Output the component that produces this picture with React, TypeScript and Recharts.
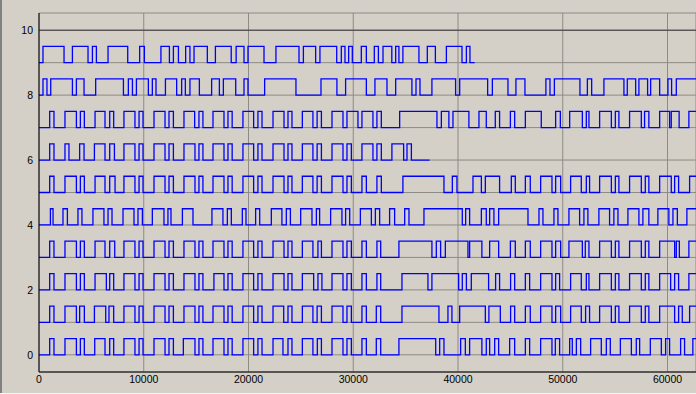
import React from 'react';
import { LineChart, Line, XAxis, YAxis, CartesianGrid, ReferenceLine } from 'recharts';

// Transition times (signal toggles low->high->low ...) for each digital channel
const ch0 = [1020,1430, 2480,3570, 3950,4330, 5320,6300, 6750,7130, 8110,9160, 9550,9930, 10980,12030, 12410,12830, 13780,14890, 15270,15650, 16610,17660, 18040,18440, 19470,20490, 20900,21290, 22340,23290, 23770,24150, 25140,26150, 26570,26960, 27970,29020, 29400,29820, 30830,31250, 32200,32620, 34360,37870, 38250,38660, 40250,40700, 41110,42280, 42700,43020, 43500,43880, 44930,45410, 46430,46840, 47890,48970, 49290,49700, 50660,50910, 51300,51710, 52660,53680, 54160,54540, 55500,56550, 57020,57340, 58360,59410, 59820,60200, 61250,61630, 62420];
const ch1 = [1020,1430, 2480,3570, 3880,4330, 5290,6370, 6680,7130, 8110,9160, 9550,9930, 10980,12030, 12410,12830, 13840,14890, 15270,15650, 16610,17660, 18040,18440, 19470,20490, 20900,21290, 22340,23360, 23770,24150, 25140,26150, 26550,26960, 27970,29020, 29400,29820, 30830,31250, 32200,32620, 34650,38180, 39040,39420, 40160,42610, 42950,44040, 45020,45410, 46430,46900, 47890,48970, 49320,49800, 50750,51770, 52180,52560, 53520,54640, 55020,55360, 56380,57500, 57880,58220, 59250,60680, 61060,61410, 62110];
const ch2 = [1020,1430, 2480,3570, 3950,4330, 5350,6430, 6750,7130, 8110,9160, 9550,9930, 10980,12030, 12410,12830, 13840,14890, 15270,15650, 16700,17660, 18040,18440, 19470,20490, 20900,21290, 22340,23390, 23770,24150, 25140,26220, 26630,27010, 27970,29020, 29400,29820, 30830,31250, 32260,32620, 34650,37130, 37510,40060, 40410,40800, 41270,42920, 43590,43970, 45020,45410, 46430,46840, 47890,48970, 49320,49700, 50750,51770, 52250,52500, 53520,54640, 55020,55360, 56380,57500, 57880,58220, 59250,60300, 60680,61060, 62040];
const ch3 = [1020,1430, 2480,3570, 3950,4330, 5350,6300, 6750,7230, 8110,9160, 9550,9930, 10980,12030, 12410,12830, 13840,14890, 15270,15650, 16610,17660, 18040,18440, 19470,20490, 20900,21290, 22340,23390, 23770,24150, 25140,26150, 26630,26960, 27970,29020, 29400,29820, 30830,31250, 32260,32620, 34360,37510, 37930,38340, 38790,40950, 41110,42280, 43020,43880, 45000,45470, 46430,46900, 47890,48970, 49320,49800, 50590,51870, 52150,52500, 53520,54640, 55020,55360, 56380,57500, 57880,58220, 59250,60680, 60840,61130, 62040];
const ch4 = [1090,1340, 2290,2710, 3720,4100, 5150,6200, 6590,6970, 8020,9070, 9450,9870, 10820,11930, 12310,12600, 13690,14700, 16510,17560, 17980,18360, 19410,19760, 20680,21070, 22180,23190, 23610,24000, 24980,26060, 26480,26790, 27840,28920, 29270,29660, 30680,31730, 32110,32520, 33470,33950, 34910,35320, 36750,40410, 40730,41110, 42230,42700, 43020,43430, 43880,46680, 47730,48110, 49160,49540, 50590,51610, 52020,52400, 53450,54470, 54880,55270, 56220,57270, 57650,58220, 59080,60130, 60520,60940, 61850];
const ch5 = [1020,1430, 2480,3570, 3950,4330, 5350,6300, 6750,7260, 8110,9160, 9550,9930, 10980,12030, 12410,12830, 13840,14890, 15270,15650, 16610,17660, 18040,18440, 19470,20490, 20900,21290, 22340,23390, 23770,24150, 25140,26150, 26550,26960, 27970,29020, 29400,29820, 30830,31250, 32260,32680, 34740,38660, 39460,39900, 41430,42230, 42610,43970, 45090,45470, 46430,46900, 47890,48970, 49320,49800, 50750,51770, 52250,52560, 53520,54640, 55020,55360, 56380,57500, 57880,58220, 59250,60360, 60680,61060, 62110];
const ch6 = [1020,1430, 2480,2860, 3880,4300, 5290,6300, 6750,7200, 8110,9160, 9550,9930, 10980,12030, 12410,12830, 13840,14890, 15270,15650, 16610,17660, 18040,18440, 19470,20490, 20900,21290, 22340,23390, 23770,24150, 25140,26150, 26550,26960, 27970,29020, 29400,29820, 30830,31880, 32260,32680, 33690,34810, 35130,35550];
const ch7 = [1020,1430, 2480,3570, 3950,4330, 5350,6300, 6750,7130, 8110,9160, 9550,9930, 10980,12030, 12410,12830, 13840,14860, 15270,15650, 16610,17660, 18040,18440, 19470,20490, 20900,21290, 22340,23390, 23770,24150, 25140,26150, 26550,26960, 27970,29020, 29400,30450, 30830,31880, 32260,32680, 34430,37990, 38410,39130, 39520,41040, 42000,42700, 43560,43970, 45000,45410, 46430,47950, 49320,49770, 50660,51870, 52250,52500, 53520,54640, 55020,55360, 56380,57500, 57810,58220, 59250,60200, 60360,61110, 62040];
const ch8 = [380,760, 1120,3190, 3570,4300, 5410,8060, 8530,8920, 9300,10440, 10820,11170, 12070,13140, 13620,13970, 14410,15310, 16480,17220, 17600,18780, 19570,19950, 21540,24530, 26920,28440, 29270,31250, 32070,33220, 34050,35600, 35990,36370, 37510,39770, 40160,42830, 43280,44770, 45530,46390, 48390,48780, 49200,51640, 52350,52760, 53930,55840, 56160,56960, 57270,58100, 58390,59250, 60040,60390, 60840];
const ch9 = [380,2390, 3190,4680, 5100,5480, 6590,8470, 9610,10060, 11640,12450, 12830,13310, 14000,14410, 14800,16070, 16840,18350, 18820,19570, 19950,21480, 22620,24820, 25240,26410, 26820,28420, 28860,29210, 29560,29910, 30770,31250, 32010,32400, 32840,33680, 34050,34360, 34740,36270, 37070,37840, 38890,40380, 40800,41140];

const X_END = 62720;
const channelEdges = [ch0, ch1, ch2, ch3, ch4, ch5, ch6, ch7, ch8, ch9];
const channelBases = [0, 1, 2, 3, 4, 5, 6, 7, 8, 9];
const channelEnds = [X_END, X_END, X_END, X_END, X_END, X_END, 37290, X_END, X_END, 41590];
const pulseHeight = 0.5;

const xTicks = [0, 10000, 20000, 30000, 40000, 50000, 60000];
const yTicks = [0, 1, 2, 3, 4, 5, 6, 7, 8, 9, 10];
const yLabelTicks = [0, 2, 4, 6, 8, 10];

function toSteps(edges: number[], base: number, end: number) {
  const pts = [{ x: 0, y: base }];
  let high = false;
  for (const t of edges) {
    high = !high;
    pts.push({ x: t, y: base + (high ? pulseHeight : 0) });
  }
  pts.push({ x: end, y: base + (high ? pulseHeight : 0) });
  return pts;
}

const series = channelEdges.map((e, i) => toSteps(e, channelBases[i], channelEnds[i]));

const tickStyle = { fill: '#000', fontSize: 10.5, fontFamily: '"Liberation Sans", Arial, sans-serif' };

export default function App() {
  return (
    <div style={{ position: 'absolute', left: 0, top: 0, width: 696, height: 394, background: '#d4d0c8', overflow: 'hidden' }}>
      <div style={{ position: 'absolute', left: 0, top: 0, width: 2, height: 394, background: '#808080' }} />
      <div style={{ position: 'absolute', left: 0, bottom: 0, width: 696, height: 1, background: '#f4f4f4' }} />
      <div style={{ position: 'absolute', left: 0, top: 0 }}>
        <LineChart width={696} height={394} margin={{ top: 13, right: 0, bottom: 0, left: 0 }}>
          <CartesianGrid stroke="#8e8a84" strokeWidth={1} />
          <XAxis
            type="number"
            dataKey="x"
            domain={[0, X_END]}
            ticks={xTicks}
            allowDataOverflow
            height={22}
            tickLine={false}
            tickSize={4}
            tickMargin={0}
            axisLine={{ stroke: '#000' }}
            tick={tickStyle}
            interval={0}
          />
          <YAxis
            type="number"
            domain={[-0.53, 10.53]}
            ticks={yTicks}
            allowDataOverflow
            width={39}
            tickLine={false}
            tickSize={6}
            tickMargin={0}
            axisLine={{ stroke: '#000' }}
            tick={tickStyle}
            interval={0}
            tickFormatter={(v: number) => (yLabelTicks.includes(v) ? String(v) : '')}
          />
          <ReferenceLine y={10} stroke="#3c3c3c" strokeWidth={1} />
          {series.map((d, i) => (
            <Line
              key={i}
              data={d}
              dataKey="y"
              type="stepAfter"
              stroke="#0000ff"
              strokeWidth={1.3}
              dot={false}
              activeDot={false}
              isAnimationActive={false}
            />
          ))}
        </LineChart>
      </div>
    </div>
  );
}
